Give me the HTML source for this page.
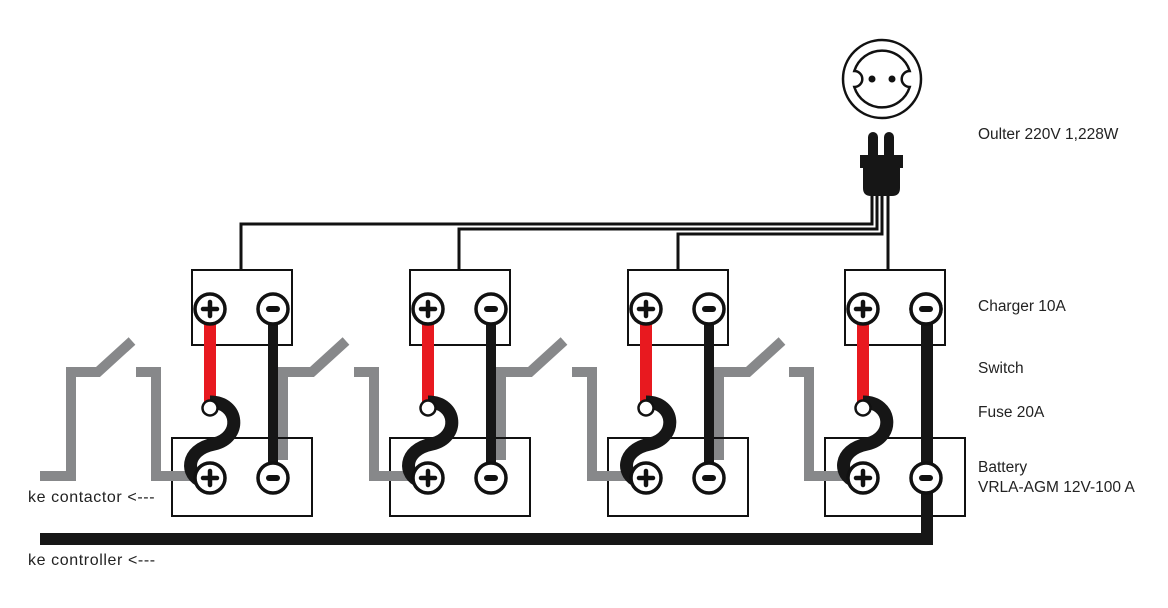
<!DOCTYPE html>
<html><head><style>
html,body{margin:0;padding:0;background:#fff;}
svg{display:block;}
text{font-family:"Liberation Sans",sans-serif;font-size:15.5px;fill:#222;}
</style></head><body>
<svg width="1168" height="608" viewBox="0 0 1168 608" xmlns="http://www.w3.org/2000/svg">
<defs>
<g id="plus">
<circle r="15" fill="#fff" stroke="#111" stroke-width="3.5"/>
<path d="M-7 0H7M0 -7V7" stroke="#111" stroke-width="4.5" stroke-linecap="round"/>
</g>
<g id="minus">
<circle r="15" fill="#fff" stroke="#111" stroke-width="3.5"/>
<path d="M-4 0H4" stroke="#111" stroke-width="6" stroke-linecap="round"/>
</g>
<g id="unit">
<rect x="192" y="270" width="100" height="75" fill="#fff" stroke="#111" stroke-width="2"/>
<rect x="172" y="438" width="140" height="78" fill="none" stroke="#111" stroke-width="2"/>
<path d="M136 372H156V476H200" fill="none" stroke="#87888a" stroke-width="10"/>
<rect x="204" y="322" width="12" height="84" fill="#e8191f"/>
<rect x="268" y="308" width="10" height="170" fill="#161616"/>
<path d="M210 402 C240 402,242 438,214 444 C184 450,186 476,202 481" fill="none" stroke="#161616" stroke-width="13"/>
<circle cx="210" cy="408" r="7.5" fill="#fff" stroke="#111" stroke-width="2.5"/>
<use href="#plus" x="210" y="309"/>
<use href="#minus" x="273" y="309"/>
<use href="#plus" x="210" y="478"/>
</g>
</defs>

<path d="M40 476H71V372H98L132 341" fill="none" stroke="#87888a" stroke-width="10"/>
<path d="M283 460V372H312L346 341" fill="none" stroke="#87888a" stroke-width="10"/>
<path d="M501 460V372H530L564 341" fill="none" stroke="#87888a" stroke-width="10"/>
<path d="M719 460V372H748L782 341" fill="none" stroke="#87888a" stroke-width="10"/>

<g fill="none" stroke="#111" stroke-width="3">
<path d="M872 196V224H241V270"/>
<path d="M877 196V229H459V270"/>
<path d="M882 196V234H678V270"/>
<path d="M888 196V270"/>
</g>

<use href="#unit"/>
<use href="#unit" x="218"/>
<use href="#unit" x="436"/>
<use href="#unit" x="653"/>
<use href="#minus" x="273" y="478"/>
<use href="#minus" x="491" y="478"/>
<use href="#minus" x="709" y="478"/>
<path d="M927 310V539H40" fill="none" stroke="#161616" stroke-width="12"/>
<use href="#minus" x="926" y="309"/>
<use href="#minus" x="926" y="478"/>

<circle cx="882" cy="79" r="39" fill="#fff" stroke="#111" stroke-width="2.5"/>
<path d="M854.3 71 A29 29 0 0 1 909.7 71 A8 8 0 0 0 909.7 87 A29 29 0 0 1 854.3 87 A8 8 0 0 0 854.3 71 Z" fill="#fff" stroke="#111" stroke-width="2.5"/>
<circle cx="872" cy="79" r="3.5" fill="#111"/>
<circle cx="892" cy="79" r="3.5" fill="#111"/>
<rect x="868" y="132" width="10" height="30" rx="5" fill="#161616"/>
<rect x="884" y="132" width="10" height="30" rx="5" fill="#161616"/>
<rect x="860" y="155" width="43" height="13" fill="#161616"/>
<path d="M863 168H900V188Q900 196 892 196H871Q863 196 863 188Z" fill="#161616"/>

<text x="978" y="139">Oulter 220V 1,228W</text>
<text x="978" y="311">Charger 10A</text>
<text x="978" y="373">Switch</text>
<text x="978" y="417">Fuse 20A</text>
<text x="978" y="472">Battery</text>
<text x="978" y="492">VRLA-AGM 12V-100 A</text>
<text x="28" y="502" style="font-size:16px;letter-spacing:0.6px">ke contactor &lt;---</text>
<text x="28" y="565" style="font-size:16px;letter-spacing:0.6px">ke controller &lt;---</text>
</svg>
</body></html>
